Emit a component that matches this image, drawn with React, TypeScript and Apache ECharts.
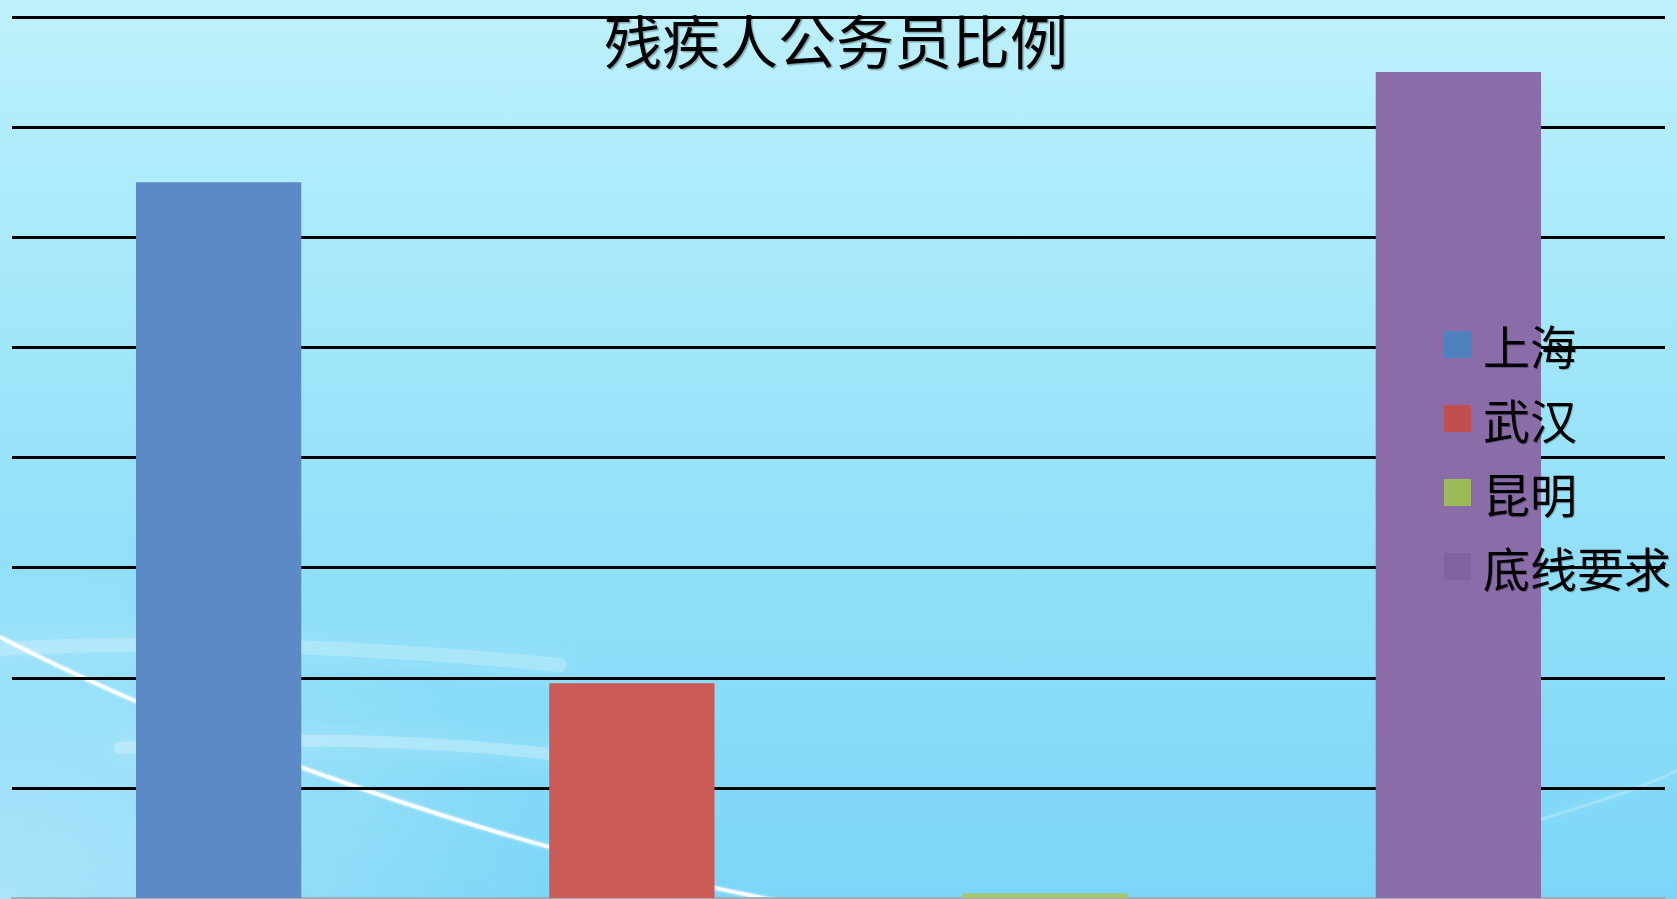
import React, { useEffect, useRef } from "react";
import * as echarts from "echarts";

const titleText = "残疾人公务员比例";
const categories = ["上海", "武汉", "昆明", "底线要求"];
const values = [1.3, 0.39, 0.008, 1.5];
const barColors = ["#5B8AC6", "#CB5A56", "#A6C566", "#8A6DA8"];
const legendColors = ["#4F81BD", "#C0504D", "#9BBB59", "#8064A2"];
const yMin = 0;
const yMax = 1.6;
const yInterval = 0.2;

export default function App() {
  const ref = useRef<HTMLDivElement>(null);
  useEffect(() => {
    if (!ref.current) return;
    const chart = echarts.init(ref.current, null, { renderer: "svg" });
    const series = categories.map((name, i) => ({
      name,
      type: "bar",
      stack: "all",
      barWidth: "40%",
      data: categories.map((_, j) => (j === i ? values[i] : "-")),
      itemStyle: { color: barColors[i] },
      z: 3,
    }));
    const cf = "'Noto Sans CJK SC', sans-serif";
    chart.setOption({
      animation: false,
      backgroundColor: {
        type: "linear",
        x: 0,
        y: 0,
        x2: 0,
        y2: 1,
        colorStops: [
          { offset: 0, color: "#BDF1FC" },
          { offset: 0.5, color: "#98E3F9" },
          { offset: 1, color: "#7CD6F7" },
        ],
      },
      graphic: [
        {
          type: "rect",
          z: -1,
          silent: true,
          shape: { x: 0, y: 560, width: 560, height: 339 },
          style: { fill: { type: "radial", x: 0, y: 1, r: 1, colorStops: [{ offset: 0, color: "rgba(255,255,255,0.35)" }, { offset: 1, color: "rgba(255,255,255,0)" }] } },
        },
        {
          type: "bezierCurve",
          z: 0,
          silent: true,
          shape: { x1: -20, y1: 650, cpx1: 150, cpy1: 640, cpx2: 350, cpy2: 645, x2: 560, y2: 665 },
          style: { stroke: "rgba(255,255,255,0.2)", lineWidth: 14, fill: null, lineCap: "round", shadowColor: "rgba(255,255,255,0.9)", shadowBlur: 24 },
        },
        {
          type: "bezierCurve",
          z: 0,
          silent: true,
          shape: { x1: 120, y1: 748, cpx1: 300, cpy1: 735, cpx2: 450, cpy2: 740, x2: 600, y2: 760 },
          style: { stroke: "rgba(255,255,255,0.25)", lineWidth: 12, fill: null, lineCap: "round", shadowColor: "rgba(255,255,255,0.9)", shadowBlur: 24 },
        },
        {
          type: "bezierCurve",
          z: 0,
          silent: true,
          shape: { x1: 0, y1: 637, cpx1: 200, cpy1: 740, cpx2: 500, cpy2: 850, x2: 800, y2: 905 },
          style: { stroke: "rgba(255,255,255,0.9)", lineWidth: 3.5, fill: null, shadowColor: "#fff", shadowBlur: 3 },
        },
        {
          type: "bezierCurve",
          z: 0,
          silent: true,
          shape: { x1: 1540, y1: 820, cpx1: 1600, cpy1: 800, cpx2: 1640, cpy2: 790, x2: 1677, y2: 770 },
          style: { stroke: "rgba(255,255,255,0.2)", lineWidth: 3, fill: null, shadowColor: "rgba(255,255,255,0.6)", shadowBlur: 6 },
        },
      ],
      title: {
        text: titleText,
        left: 836,
        textAlign: "center",
        top: 10,
        padding: 0,
        textStyle: {
          fontFamily: cf,
          fontSize: 58,
          fontWeight: "normal",
          color: "#000",
          textShadowColor: "rgba(0,0,0,0.3)",
          textShadowOffsetX: 1.5,
          textShadowOffsetY: 1.5,
          textShadowBlur: 1,
        },
        z: 10,
      },
      legend: {
        orient: "vertical",
        left: 1444,
        top: 321,
        padding: 0,
        itemWidth: 27,
        itemHeight: 27,
        itemGap: 27,
        selectedMode: false,
        icon: "rect",
        data: categories.map((name, i) => ({ name, itemStyle: { color: legendColors[i] } })),
        textStyle: {
          fontFamily: cf,
          fontSize: 47,
          lineHeight: 47,
          color: "#000",
          padding: [0, 0, 0, 7],
          textShadowColor: "rgba(0,0,0,0.25)",
          textShadowOffsetX: 1,
          textShadowOffsetY: 1,
          textShadowBlur: 1,
        },
        z: 10,
      },
      grid: { left: 12, right: 12, top: 17, bottom: 1, containLabel: false },
      xAxis: {
        type: "category",
        data: categories,
        axisLine: { show: true, lineStyle: { color: "#9AB0BA", width: 2 } },
        axisTick: { show: false },
        axisLabel: { show: false },
        splitLine: { show: false },
      },
      yAxis: {
        type: "value",
        min: yMin,
        max: yMax,
        interval: yInterval,
        axisLine: { show: false },
        axisTick: { show: false },
        axisLabel: { show: false },
        splitLine: {
          show: true,
          lineStyle: { color: ["#9AB0BA", "#000", "#000", "#000", "#000", "#000", "#000", "#000", "#000"], width: 2.8 },
        },
      },
      series,
    });
    return () => chart.dispose();
  }, []);
  return (
    <div
      ref={ref}
      style={{ position: "fixed", left: 0, top: 0, width: 1677, height: 899 }}
    />
  );
}
